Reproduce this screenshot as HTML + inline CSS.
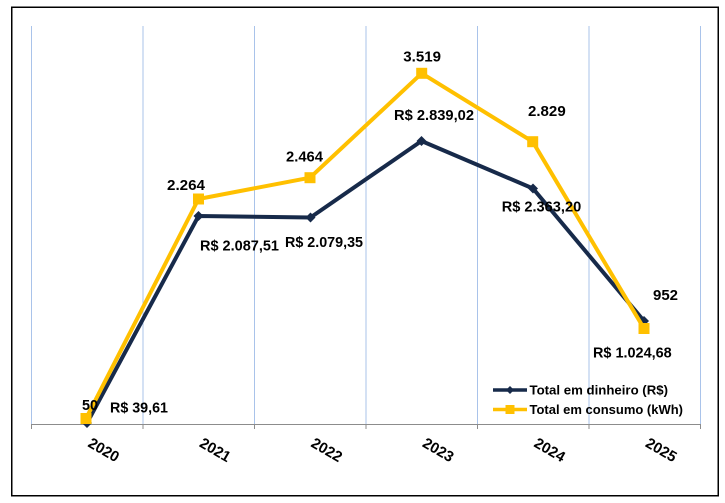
<!DOCTYPE html>
<html><head><meta charset="utf-8"><style>
html,body{margin:0;padding:0;background:#fff;}
svg{display:block;}
text{font-family:"Liberation Sans",sans-serif;font-weight:bold;fill:#000;}
</style></head><body>
<svg width="725" height="503" viewBox="0 0 725 503" xmlns="http://www.w3.org/2000/svg">
<rect x="0" y="0" width="725" height="503" fill="#fff"/>
<rect x="11.75" y="7.25" width="706.5" height="488.5" fill="none" stroke="#000" stroke-width="1.5"/>
<g stroke="#a9c3ea" stroke-width="1">
<line x1="31.5" y1="26" x2="31.5" y2="424"/>
<line x1="143" y1="26" x2="143" y2="424"/>
<line x1="254.5" y1="26" x2="254.5" y2="424"/>
<line x1="366" y1="26" x2="366" y2="424"/>
<line x1="477.5" y1="26" x2="477.5" y2="424"/>
<line x1="589" y1="26" x2="589" y2="424"/>
<line x1="700.5" y1="26" x2="700.5" y2="424"/>
</g>
<g stroke="#8c8c8c" stroke-width="1">
<line x1="31" y1="424.5" x2="701" y2="424.5"/>
<line x1="31.5" y1="424" x2="31.5" y2="429"/>
<line x1="143" y1="424" x2="143" y2="429"/>
<line x1="254.5" y1="424" x2="254.5" y2="429"/>
<line x1="366" y1="424" x2="366" y2="429"/>
<line x1="477.5" y1="424" x2="477.5" y2="429"/>
<line x1="589" y1="424" x2="589" y2="429"/>
<line x1="700.5" y1="424" x2="700.5" y2="429"/>
</g>
<!-- dark series -->
<polyline points="87,423 198.5,216 310.5,217.5 421.5,141 533,188.5 644,321" fill="none" stroke="#172a4a" stroke-width="4" stroke-linejoin="round"/>
<g fill="#172a4a">
<polygon points="87,418 92,423 87,428 82,423"/>
<polygon points="198.5,211 203.5,216 198.5,221 193.5,216"/>
<polygon points="310.5,212.5 315.5,217.5 310.5,222.5 305.5,217.5"/>
<polygon points="421.5,136 426.5,141 421.5,146 416.5,141"/>
<polygon points="533,183.5 538,188.5 533,193.5 528,188.5"/>
<polygon points="644,316 649,321 644,326 639,321"/>
</g>
<!-- yellow series -->
<polyline points="86,418.5 198.5,199 310,177.7 421.7,73.3 532.7,141.7 644,328.5" fill="none" stroke="#ffc000" stroke-width="4" stroke-linejoin="round"/>
<g fill="#ffc000">
<rect x="80.5" y="413" width="11" height="11"/>
<rect x="193" y="193.5" width="11" height="11"/>
<rect x="304.5" y="172.2" width="11" height="11"/>
<rect x="416.2" y="67.8" width="11" height="11"/>
<rect x="527.2" y="136.2" width="11" height="11"/>
<rect x="638.5" y="323" width="11" height="11"/>
</g>
<!-- data labels -->
<g font-size="15">
<text x="82" y="410" textLength="16" lengthAdjust="spacingAndGlyphs">50</text>
<text x="110" y="412.5" textLength="58" lengthAdjust="spacingAndGlyphs">R$ 39,61</text>
<text x="167" y="190" textLength="38" lengthAdjust="spacingAndGlyphs">2.264</text>
<text x="200" y="250.5" textLength="79" lengthAdjust="spacingAndGlyphs">R$ 2.087,51</text>
<text x="286" y="161.5" textLength="37" lengthAdjust="spacingAndGlyphs">2.464</text>
<text x="285" y="247" textLength="78" lengthAdjust="spacingAndGlyphs">R$ 2.079,35</text>
<text x="403.3" y="61.5" textLength="37.7" lengthAdjust="spacingAndGlyphs">3.519</text>
<text x="394" y="120" textLength="80" lengthAdjust="spacingAndGlyphs">R$ 2.839,02</text>
<text x="528" y="116" textLength="37.7" lengthAdjust="spacingAndGlyphs">2.829</text>
<text x="501.7" y="211.7" textLength="79.5" lengthAdjust="spacingAndGlyphs">R$ 2.363,20</text>
<text x="653" y="300" textLength="25" lengthAdjust="spacingAndGlyphs">952</text>
<text x="593" y="357.3" textLength="78.7" lengthAdjust="spacingAndGlyphs">R$ 1.024,68</text>
</g>
<!-- year labels -->
<g font-size="15">
<text transform="translate(87,446) rotate(30)" textLength="33" lengthAdjust="spacingAndGlyphs">2020</text>
<text transform="translate(198.5,446) rotate(30)" textLength="33" lengthAdjust="spacingAndGlyphs">2021</text>
<text transform="translate(310,446) rotate(30)" textLength="33" lengthAdjust="spacingAndGlyphs">2022</text>
<text transform="translate(421.5,446) rotate(30)" textLength="33" lengthAdjust="spacingAndGlyphs">2023</text>
<text transform="translate(533,446) rotate(30)" textLength="33" lengthAdjust="spacingAndGlyphs">2024</text>
<text transform="translate(644.5,446) rotate(30)" textLength="33" lengthAdjust="spacingAndGlyphs">2025</text>
</g>
<!-- legend -->
<line x1="493" y1="390" x2="527" y2="390" stroke="#172a4a" stroke-width="3.5"/>
<polygon points="510,386 514,390 510,394 506,390" fill="#172a4a"/>
<line x1="493" y1="409.5" x2="527" y2="409.5" stroke="#ffc000" stroke-width="3.5"/>
<rect x="505.5" y="405" width="9" height="9" fill="#ffc000"/>
<g font-size="13">
<text x="529.5" y="394.5" textLength="138.5" lengthAdjust="spacingAndGlyphs">Total em dinheiro (R$)</text>
<text x="529.5" y="414" textLength="153.5" lengthAdjust="spacingAndGlyphs">Total em consumo (kWh)</text>
</g>
</svg>
</body></html>
